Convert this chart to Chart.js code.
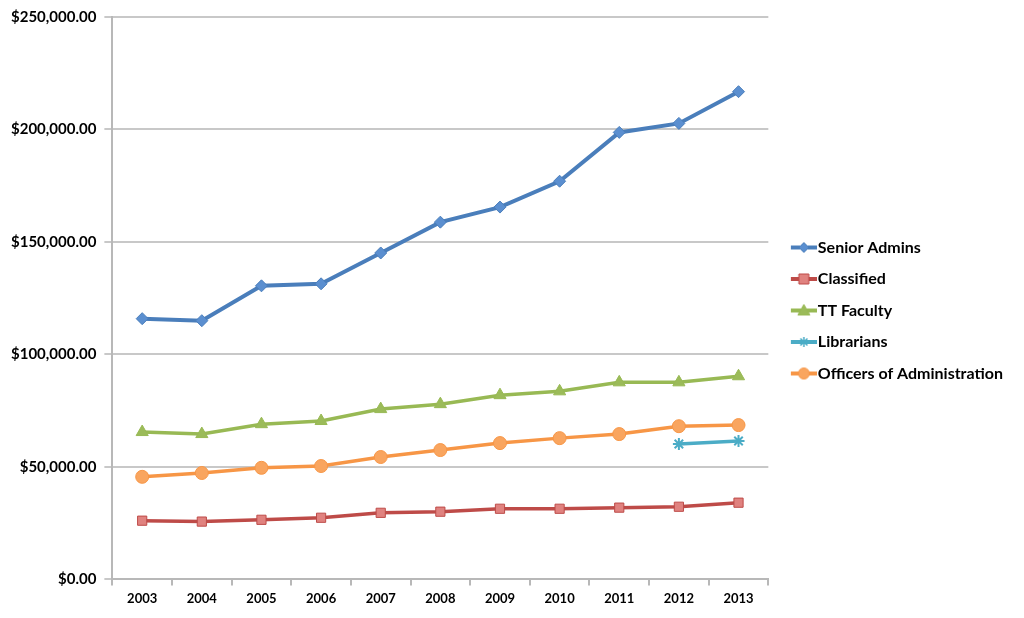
<!DOCTYPE html>
<html>
<head>
<meta charset="utf-8">
<script src="https://cdn.jsdelivr.net/npm/chart.js@4.4.0/dist/chart.umd.min.js"></script>
<style>
  html, body { margin: 0; padding: 0; background: #fff; }
  #wrap { width: 1024px; height: 618px; }
</style>
</head>
<body>
<div id="wrap"><canvas id="salaryChart" width="1024" height="618"></canvas></div>
<script>
// categorias y series
const years = ['2003', '2004', '2005', '2006', '2007', '2008', '2009', '2010', '2011', '2012', '2013'];
const seniorAdmins = [115900, 115000, 130500, 131400, 145100, 158800, 165500, 177000, 198700, 202700, 216800];
const classified = [26100, 25700, 26500, 27400, 29600, 30100, 31400, 31400, 31900, 32300, 34100];
const ttFaculty = [65500, 64600, 69000, 70400, 75700, 77900, 81900, 83600, 87600, 87600, 90300];
const librarians = [null, null, null, null, null, null, null, null, null, 60200, 61500];
const officers = [45600, 47300, 49600, 50400, 54400, 57500, 60600, 62800, 64600, 68100, 68600];
const yTicks = [0, 50000, 100000, 150000, 200000, 250000];

const FONT = 'Lato, "Liberation Sans", sans-serif';

// icono de leyenda: linea + marcador (el lienzo deja margen a la izquierda)
function legendIcon(color, fill, style) {
    const c = document.createElement('canvas');
    c.width = 40; c.height = 16;
    const g = c.getContext('2d');
    const mx = 27, my = 8;
    g.strokeStyle = color;
    g.lineWidth = 4;
    g.beginPath(); g.moveTo(14, my); g.lineTo(40, my); g.stroke();
    g.fillStyle = fill;
    g.strokeStyle = color;
    g.lineWidth = 1;
    g.beginPath();
    if (style === 'rectRot') {
        g.moveTo(mx, my - 5); g.lineTo(mx + 5, my); g.lineTo(mx, my + 5); g.lineTo(mx - 5, my); g.closePath();
        g.fill(); g.stroke();
    } else if (style === 'rect') {
        g.rect(mx - 5, my - 5, 10, 10); g.fill(); g.stroke();
    } else if (style === 'triangle') {
        g.moveTo(mx, my - 6); g.lineTo(mx + 6, my + 4.5); g.lineTo(mx - 6, my + 4.5); g.closePath();
        g.fill(); g.stroke();
    } else if (style === 'star') {
        g.lineWidth = 1.5;
        g.moveTo(mx - 5, my); g.lineTo(mx + 5, my);
        g.moveTo(mx, my - 5); g.lineTo(mx, my + 5);
        g.moveTo(mx - 3.5, my - 3.5); g.lineTo(mx + 3.5, my + 3.5);
        g.moveTo(mx + 3.5, my - 3.5); g.lineTo(mx - 3.5, my + 3.5);
        g.stroke();
    } else {
        g.arc(mx, my, 5.5, 0, Math.PI * 2); g.fill(); g.stroke();
    }
    return c;
}

function series(label, data, line, fill, style, radius, width) {
    return {
        label: label,
        data: data,
        borderColor: line,
        backgroundColor: fill,
        borderWidth: width,
        pointStyle: style,
        pointRadius: radius,
        pointHoverRadius: radius,
        pointBackgroundColor: fill,
        pointBorderColor: line,
        pointBorderWidth: style === 'star' ? 2 : 1,
        tension: 0,
        spanGaps: false,
        legendIcon: legendIcon(line, fill, style)
    };
}

const datasets = [
    series('Senior Admins', seniorAdmins, '#4a7ebb', '#5b8fd0', 'rectRot', 6, 4),
    series('Classified', classified, '#be4b48', '#e0827f', 'rect', 6.5, 3.5),
    series('TT Faculty', ttFaculty, '#98b954', '#9bbb59', 'triangle', 7, 3.5),
    series('Librarians', librarians, '#4bacc6', '#4bacc6', 'star', 6, 3.5),
    series('Officers of Administration', officers, '#f79646', '#f9a55f', 'circle', 6.5, 3.5)
];

// baja un poco la leyenda para que quede como en el original
const legendNudge = {
    id: 'legendNudge',
    afterLayout: function(chart) {
        chart.legend.top += 4;
        chart.legend.bottom += 4;
    }
};

const ctx = document.getElementById('salaryChart').getContext('2d');
window.myChart = new Chart(ctx, {
    type: 'line',
    data: { labels: years, datasets: datasets },
    plugins: [legendNudge],
    options: {
        responsive: false,
        animation: false,
        layout: { padding: { top: 0, right: 11, bottom: 5, left: 3 } },
        plugins: {
            tooltip: { enabled: false },
            legend: {
                position: 'right',
                align: 'center',
                labels: {
                    usePointStyle: true,
                    pointStyleWidth: 26,
                    padding: 15.5,
                    color: '#000',
                    font: { family: FONT, size: 16, weight: 'bold' },
                    generateLabels: function(chart) {
                        return chart.data.datasets.map((ds, i) => ({
                            text: ds.label,
                            pointStyle: ds.legendIcon,
                            fillStyle: ds.backgroundColor,
                            strokeStyle: ds.borderColor,
                            lineWidth: 0,
                            datasetIndex: i,
                            hidden: false
                        }));
                    }
                }
            }
        },
        scales: {
            x: {
                offset: true,
                border: { color: '#b8b8b8', width: 2 },
                grid: { display: true, drawOnChartArea: false, drawTicks: true, tickLength: 6, color: '#b8b8b8', lineWidth: 2, offset: true },
                ticks: { color: '#000', padding: 6, font: { family: FONT, size: 13, weight: 'bold' } }
            },
            y: {
                min: 0,
                max: 250000,
                afterBuildTicks: function(axis) {
                    axis.ticks = yTicks.map(v => ({ value: v }));
                },
                border: { color: '#b8b8b8', width: 2 },
                grid: { color: '#c8c8c8', lineWidth: 2, tickLength: 8 },
                ticks: {
                    color: '#000',
                    padding: 8,
                    font: { family: FONT, size: 15, weight: 'bold' },
                    callback: function(value) {
                        return '$' + Number(value).toLocaleString('en-US', { minimumFractionDigits: 2, maximumFractionDigits: 2 });
                    }
                }
            }
        }
    }
});
</script>
</body>
</html>
